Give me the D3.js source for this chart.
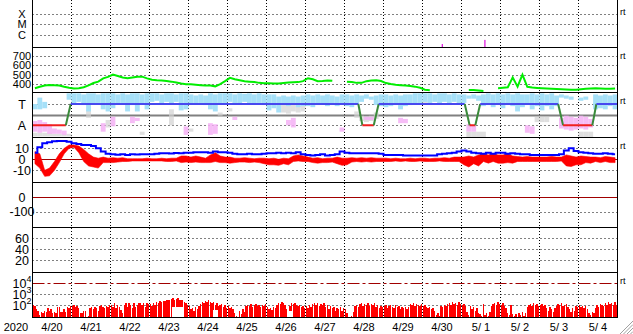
<!DOCTYPE html>
<html>
<head>
<meta charset="utf-8">
<script src="https://cdn.jsdelivr.net/npm/d3@7"></script>
<style>
  body { margin: 0; background: #fff; }
  text { font-family: "Liberation Sans", Arial, sans-serif; }
</style>
</head>
<body>
<div id="chart"></div>
<script>
// multi panel solar wind summary, 2020 4/20 - 5/4
// time is in hours from 4/20 00:00, most series are 3 hour bins

var dayLabels = ["4/20","4/21","4/22","4/23","4/24","4/25","4/26","4/27","4/28",
                 "4/29","4/30","5/ 1","5/ 2","5/ 3","5/ 4"];

// panel 1: x-ray events
var xrayLabels = ["X","M","C"], xrayLevels = [1e-4, 1e-5, 1e-6];
var flareHours = [251.8, 278], flareFlux = [1.3e-7, 3.2e-7];

// panel 2: speed
var speedTicks = [400, 500, 600, 700];
var speed = [
  355,370,385,390,388,385,370,360,
  352,355,365,385,410,425,460,475,
  500,485,470,462,470,478,478,460,
  445,440,438,432,425,415,405,398,
  397,392,388,385,383,375,398,430,
  465,450,440,430,425,420,412,408,
  408,405,405,410,415,418,420,430,
  461,450,430,432,438,435,null,null,
  425,420,412,412,430,438,440,432,
  410,400,392,388,385,380,372,360,
  340,335,null,null,null,null,null,null,
  null,336,336,330,325,null,null,355,
  360,365,470,372,500,370,362,358,
  355,352,350,348,345,342,340,340,
  345,350,352,355,352,350,350,352];

// panel 3: sector (T = 1, A = -1) and angle scatter ranges
var sectorLabels = ["T","A"], sectorTicks = [1, -1];
var sectorHours = [0,20.5,23.5,200.5,203,210,213,266,269,272.5,275.5,323.5,326.5,344.5,347,360];
var sectorState = [-1,-1,1,1,-1,-1,1,1,-1,-1,1,1,-1,-1,1,1];
var cyanSpan = [
  [1.0,0.5],[1.6,0.5],[1.2,0.6],null,null,null,null,[2.0,1.4],
  [2.0,1.0],[2.0,1.2],[1.9,0.9],[2.0,0.3],[2.0,1.0],[1.9,1.1],[2.0,0.5],[2.0,0.3],
  [2.0,0.6],[1.9,1.0],[2.0,1.1],[1.9,0.3],[2.0,0.9],[2.0,0.3],[1.9,1.0],[2.0,0.5],
  [2.0,1.2],[2.0,1.3],[1.9,1.1],[2.0,1.2],[2.0,1.0],[1.9,1.2],[2.0,0.4],[2.0,0.5],
  [1.9,1.0],[1.8,1.0],[1.9,1.1],[1.8,0.9],[2.0,0.5],[1.9,0.3],[2.0,1.0],[2.0,1.1],
  [2.0,1.2],[1.9,1.1],[2.0,1.0],[1.95,1.2],[2.0,1.1],[1.9,1.0],[2.0,1.1],[1.9,0.9],
  [1.9,0.4],[1.9,0.6],[1.7,0.2],[1.8,0.9],[1.7,0.8],[1.8,1.0],[1.7,0.7],[1.8,0.8],
  [1.9,0.8],[1.8,0.7],[1.9,0.9],[1.8,1.0],[1.9,0.8],[1.8,0.9],[1.7,0.8],[1.9,0.9],
  [1.9,0.8],[1.8,0.7],[1.9,0.9],[1.8,1.2],[1.9,1.5],[1.7,1.4],[1.8,0.9],[1.9,0.8],
  [1.9,0.7],[1.8,0.8],[1.9,0.9],[1.8,0.5],[1.9,0.8],[1.9,0.9],[2.0,1.0],[2.0,1.1],
  [2.0,1.2],[2.0,1.1],[1.9,1.2],[2.0,1.0],[2.0,1.2],[1.9,1.1],[2.0,1.2],[1.9,1.0],
  [1.9,1.1],[1.8,1.5],[1.9,1.5],[1.8,1.3],[1.9,0.8],[2.0,0.9],[1.9,0.7],[2.0,0.9],
  [1.9,0.6],[2.0,0.9],[1.9,0.8],[2.0,0.3],[1.9,0.7],[1.9,0.9],[2.0,0.5],[1.9,0.8],
  [2.0,0.4],[1.9,0.8],[2.0,0.5],[1.8,0.8],[1.9,1.6],[1.8,1.5],[1.7,1.4],null,
  [1.6,1.3],[1.7,1.4],null,[1.9,0.5],[1.8,0.6],[1.9,0.5],[1.8,0.8],[1.9,0.5]];
var pinkSpan = [
  [-0.6,-1.6],[-0.5,-1.7],[-0.7,-1.6],[-0.9,-1.8],[-1.3,-1.8],[-1.4,-1.8],[-1.5,-1.9],null,
  null,null,null,null,null,null,[-0.8,-1.6],null,
  [-0.2,-1.1],null,null,null,[-0.2,-0.8],[-0.3,-0.6],null,null,
  null,null,null,null,null,null,null,[-1.1,-1.9],
  null,null,null,null,[-0.8,-1.9],[-0.9,-1.8],null,null,
  null,[-0.2,-0.5],null,null,null,null,null,null,
  null,null,null,null,[-0.5,-1.0],[-0.3,-1.2],null,null,
  null,null,null,null,null,null,null,[-1.2,-1.6],
  null,null,null,null,[-0.2,-0.5],[-0.2,-0.5],null,null,
  null,null,null,[-0.3,-0.8],[-0.4,-0.8],null,null,null,
  null,null,null,null,null,null,null,null,
  null,[-0.9,-1.6],[-1.0,-1.6],null,null,null,null,null,
  null,null,null,null,null,[-1.0,-1.7],[-1.1,-1.8],null,
  null,null,null,null,[-0.3,-1.3],[-0.1,-1.4],[-0.2,-1.5],[-0.3,-1.4],
  [-0.1,-1.3],[-0.2,-1.4],[-0.4,-1.2],null,null,null,null,null];
var graySpan = [
  [-1.7,-2.05],[-1.7,-2.05],[-1.7,-2.05],[-1.7,-2.05],[-1.8,-2.05],[-1.8,-2.05],[-1.8,-2.05],[-1.8,-2.05],
  null,null,null,[0.4,-0.3],null,null,null,[-0.5,-1.2],
  null,null,null,null,null,null,[-1.6,-1.9],null,
  null,null,null,null,[0.5,-1.0],null,null,null,
  [-1.3,-1.6],null,null,null,null,null,[0.2,-0.1],null,
  [0.6,0.3],null,null,null,null,null,null,null,
  null,null,null,[1.0,0.2],[0.9,0.1],[1.0,0.3],[0.8,0.2],[0.9,0.3],
  null,null,null,null,null,null,null,null,
  null,null,[0.3,-0.3],[-0.1,-0.6],[-0.2,-0.7],[-0.1,-0.6],[0.2,-0.4],null,
  null,null,null,null,null,null,null,null,
  [1.4,1.1],null,null,null,null,null,null,null,
  null,[-1.6,-2.1],[-1.6,-2.1],[-1.6,-2.1],[-1.6,-2.1],null,null,null,
  null,null,null,null,null,null,null,[-0.2,-0.7],
  [-0.2,-0.7],[-0.2,-0.7],null,null,null,null,null,null,
  [-1.6,-2.1],[-1.6,-2.1],[-1.6,-2.1],null,null,null,null,null];

// panel 4: field magnitude (blue) and north-south component range (red)
var bTicks = [10, 0, -10];
var bt = [
  6,11,14.5,15.5,16.5,16.7,16.7,16,
  14.5,14,13,13,12,10,7,5,
  4.5,4.2,4.5,4,4.5,4.3,4.5,4.5,
  4.5,5,5.5,5.5,5.3,5.8,5.5,6,
  6,6.5,6.3,6.5,6,7,6.5,6.5,
  6,5,4.5,4.5,5,4.5,4.5,5,
  5.5,5.5,6,5.5,6,5.5,6.5,4.5,
  4,3.5,4,4.5,3.5,4,4.5,7,
  6,5.5,5.5,5.5,5.5,5.5,5.5,5,
  4,4,4,4,3.5,3.5,3.5,3.5,
  3.5,3.5,3.5,4.5,5,5.5,6,7,
  8,7,6,5.5,5,6,5,6,
  6,5,5.5,5,4.5,4.5,4,4,
  4,4,4,4,4.5,8,10,7.5,
  6.5,6,5.5,5,5,5.5,5,4.5];
var bzHi = [
  7,5,-10,-8,-2,5,10,13,
  13,12,9,5,2,1,2,1,
  1.5,1,1.5,0.5,0.5,0.5,0.5,1,
  0.5,0.5,1,0.5,1,1,3,3,
  2,3,2,1,4,6,3,2,
  2,1,1,1.5,1,0.5,1,1,
  0.5,1,0,1,0.5,3,4,3,
  2,1,1.5,0.5,1,1,2,1,
  1,1.5,1,1.5,1,1.5,1,1,
  1,0.5,1,0.5,0.5,1,0.5,1,
  1,0.5,1,1,1.5,1,2,2,
  2,3,2,4,5,4,5,4,
  4,5,3,2.5,2,2.5,2,2,
  2,2,2.5,2,2,4,3,2,
  3,2.5,2,2,1.5,2.5,2,1.5];
var bzLo = [
  -4,-8,-15.5,-15,-10,-3,5,10,
  11,6,-2,-6,-7,-8,-3,-3,
  -3,-2.5,-2,-2,-1.5,-1.5,-1.5,-1.5,
  -1.5,-1.5,-1.5,-2,-2,-1.5,-3,-2.5,
  -3,-2.5,-3,-3,-3,-2,-3,-3,
  -3.5,-3,-2.5,-2.5,-3,-2.5,-3,-4,
  -5,-5,-5.5,-4,-5,-2,-1.5,-2,
  -2,-3,-3.5,-3,-3,-2.5,-4,-5.5,
  -5,-2.5,-2,-2.5,-2,-2.5,-2,-2,
  -2,-2,-1.5,-2,-1.5,-2,-2,-1.5,
  -2,-2,-2,-1.5,-2,-2,-2,-2,
  -5,-7,-4,-6,-2,-3.5,-2,-3.5,
  -3.5,-3,-3.5,-2,-2,-2,-2,-2,
  -2,-2,-2,-2,-1.5,-6,-6.5,-5,
  -5,-3,-3.5,-2,-3,-2,-3,-3];

// panels 5 and 6: empty
var dstTicks = [0, -100];
var kpTicks = [60, 40, 20];

// panel 7: hourly flux, log10 values
var fluxTicks = [4, 3, 2];
var fluxLog = [
  2.0,1.9,1.6,1.5,1.1,1.4,1.3,1.5,1.4,1.7,1.5,1.6,1.3,1.4,1.3,1.8,1.8,1.4,1.4,1.6,1.4,1.8,1.7,1.9,
  1.9,2.0,1.8,1.9,1.7,1.3,1.25,1.5,1.5,0.95,1.0,1.7,1.8,1.6,1.8,1.7,1.5,1.9,2.0,1.8,1.7,1.9,1.8,2.0,
  2.0,1.85,2.15,1.7,2.0,1.85,1.55,1.25,2.0,2.15,1.85,2.15,2.0,1.7,2.15,1.85,2.0,2.15,2.2,2.0,2.15,1.85,2.2,2.1,
  2.1,1.9,2.2,2.0,2.3,2.2,2.4,2.3,2.4,2.35,2.5,2.45,2.5,2.55,2.6,2.5,2.55,2.6,2.5,2.45,2.5,2.3,2.2,2.0,
  1.9,1.6,1.7,1.5,1.8,1.6,1.9,2.1,2.3,2.2,2.4,2.3,2.45,2.3,2.2,2.3,2.0,2.2,1.9,2.0,2.1,1.8,2.0,1.7,
  1.9,1.7,1.8,1.6,1.3,1.0,0.95,1.5,1.2,1.6,1.4,1.9,2.0,1.9,2.1,1.8,2.0,2.1,1.9,2.0,1.85,2.0,1.9,2.1,
  1.8,1.6,1.7,1.55,1.8,1.7,2.0,2.2,2.1,2.3,2.2,2.0,1.6,1.4,1.9,2.2,2.1,2.2,2.0,1.9,2.0,1.8,1.9,1.7,
  1.9,1.7,2.0,1.8,2.1,2.2,2.0,2.2,1.9,2.1,2.0,2.15,1.8,2.0,1.6,1.9,1.7,1.8,1.5,1.7,1.6,1.8,1.5,1.7,
  1.6,1.3,0.95,0.9,1.0,1.4,1.9,2.0,1.8,2.1,2.2,1.9,2.1,2.0,2.2,1.9,2.1,2.0,2.2,1.8,2.0,1.7,1.9,1.8,
  1.9,2.0,1.7,1.9,2.0,1.8,1.7,2.0,1.8,1.9,1.6,1.8,1.7,1.85,1.6,1.8,2.1,2.0,2.15,1.9,2.1,2.0,1.9,2.05,
  1.9,2.0,1.8,1.7,1.85,1.6,1.7,1.5,1.1,1.3,1.0,1.9,1.8,2.0,1.9,2.1,2.2,2.0,2.3,2.1,2.2,2.0,2.3,2.1,
  2.0,2.1,1.9,1.4,1.1,1.9,1.6,1.8,1.5,1.7,1.3,1.2,1.0,2.1,1.1,1.3,1.0,1.4,1.9,2.1,2.2,2.0,2.3,2.1,
  2.0,2.2,1.9,1.7,1.3,1.1,2.0,1.2,1.0,1.2,0.95,1.3,1.1,1.4,1.0,1.3,1.8,2.0,2.1,1.9,2.2,2.0,2.1,1.9,
  2.0,2.1,1.9,2.0,1.7,1.5,1.8,1.6,1.4,1.7,1.9,2.1,2.0,2.15,1.9,2.0,2.1,1.8,1.6,1.4,1.7,1.5,1.9,1.8,
  2.0,1.8,1.9,1.7,1.9,1.6,1.3,1.1,1.4,1.3,1.7,2.0,1.8,2.1,2.0,1.9,2.2,2.0,2.3,2.1,2.2,2.0,2.25,2.0];
// stretches where the trace never dropped to the floor: [from hour, to hour, lowest log10]
var fluxHoles = [[86, 93, 1.85], [111, 114, 1.55], [157, 160, 1.5]];

var W = 633, H = 334;
var plotLeft = 32.5, plotRight = 617.5;
var panelTop = [0, 47.5, 92.5, 137.5, 182.5, 227.5, 272.5], plotBottom = 317.5;

var svg = d3.select("#chart").append("svg")
  .attr("width", W).attr("height", H)
  .style("display", "block");

var x = d3.scaleLinear().domain([0, 360]).range([plotLeft, plotRight]);

var yXray = d3.scaleLog().domain([1e-6, 1e-4]).range([34.7, 13.7]);
var ySpeed = d3.scaleLinear().domain([400, 700]).range([84, 55.7]);
var ySec = d3.scaleLinear().domain([-1, 1]).range([125.3, 104]);
var yB = d3.scaleLinear().domain([-10, 10]).range([170.3, 148.3]);
var yDst = d3.scaleLinear().domain([-100, 0]).range([211.7, 197.3]);
var yKp = d3.scaleLinear().domain([20, 60]).range([260.3, 238]);
var yFlux = d3.scaleLinear().domain([2, 4]).range([305, 283]);

// clip for each panel
var defs = svg.append("defs");
panelTop.forEach(function(t, i){
  var b = i < panelTop.length - 1 ? panelTop[i+1] : plotBottom;
  defs.append("clipPath").attr("id", "clip" + i)
    .append("rect").attr("x", plotLeft).attr("y", t)
    .attr("width", plotRight - plotLeft).attr("height", b - t);
});
function panel(i){ return svg.append("g").attr("clip-path", "url(#clip" + i + ")"); }

// ---- grid
var grid = svg.append("g");
function hDots(y){
  grid.append("line").attr("x1", plotLeft).attr("x2", plotRight)
    .attr("y1", Math.round(y) + 0.5).attr("y2", Math.round(y) + 0.5)
    .attr("stroke", "#000").attr("stroke-dasharray", "1,3");
}
xrayLevels.forEach(function(v){ hDots(yXray(v)); });
speedTicks.forEach(function(v){ hDots(ySpeed(v)); });
sectorTicks.forEach(function(v){ hDots(ySec(v)); });
hDots(yB(10)); hDots(yB(-10));
hDots(yDst(-100));
kpTicks.forEach(function(v){ hDots(yKp(v)); });
hDots(yFlux(3)); hDots(yFlux(2));

d3.range(1, 15).forEach(function(d){
  var xx = Math.round(x(d * 24) - 0.5) + 0.5;
  grid.append("line").attr("x1", xx).attr("x2", xx)
    .attr("y1", 0).attr("y2", plotBottom)
    .attr("stroke", "#000").attr("stroke-dasharray", "1,2");
});

// ---- reference lines
svg.append("line").attr("x1", plotLeft).attr("x2", plotRight)
  .attr("y1", Math.round(ySec(0)) + 0.5).attr("y2", Math.round(ySec(0)) + 0.5)
  .attr("stroke", "#808080").attr("stroke-width", 2);
[yB(0), yDst(0)].forEach(function(y){
  svg.append("line").attr("x1", plotLeft).attr("x2", plotRight)
    .attr("y1", Math.round(y) + 0.5).attr("y2", Math.round(y) + 0.5)
    .attr("stroke", "#a00000");
});
svg.append("line").attr("x1", plotLeft).attr("x2", plotRight)
  .attr("y1", Math.round(yFlux(4)) + 0.5).attr("y2", Math.round(yFlux(4)) + 0.5)
  .attr("stroke", "#a00000").attr("stroke-dasharray", "12,3,3,3");

// ---- panel 1: x-ray events
var p1 = panel(0);
flareHours.forEach(function(h, i){
  p1.append("rect").attr("x", x(h)).attr("width", 1.3)
    .attr("y", yXray(flareFlux[i])).attr("height", panelTop[1] - yXray(flareFlux[i]))
    .attr("fill", "#e020e0");
});

// ---- panel 2: speed
var p2 = panel(1);
p2.append("path").datum(speed)
  .attr("fill", "none").attr("stroke", "#00ee00").attr("stroke-width", 2)
  .attr("d", d3.line().defined(function(d){ return d !== null; })
    .x(function(d, i){ return x(i * 3 + 1.5); })
    .y(function(d){ return ySpeed(d); }));

// ---- panel 3: sector
var p3 = panel(2);
function spans(g, data, color, op){
  g.selectAll(null).data(data.map(function(d, i){ return d ? {i: i, d: d} : null; })
      .filter(function(d){ return d; }))
    .join("rect")
    .attr("x", function(d){ return x(d.i * 3); })
    .attr("width", x(3) - x(0))
    .attr("y", function(d){ return ySec(d.d[0]); })
    .attr("height", function(d){ return ySec(d.d[1]) - ySec(d.d[0]); })
    .attr("fill", color).attr("opacity", op);
}
spans(p3, graySpan, "#d2d2d2", 0.7);
spans(p3, cyanSpan, "#a6e0f8", 1);
spans(p3, pinkSpan, "#f4b0f4", 0.85);
d3.range(sectorHours.length - 1).forEach(function(i){
  var s0 = sectorState[i], s1 = sectorState[i+1];
  var col = s0 !== s1 ? "#3a8a3a" : (s0 > 0 ? "#4848f0" : "#f02020");
  p3.append("line")
    .attr("x1", x(sectorHours[i])).attr("x2", x(sectorHours[i+1]))
    .attr("y1", ySec(s0)).attr("y2", ySec(s1))
    .attr("stroke", col).attr("stroke-width", 2);
});

// ---- panel 4: field
var p4 = panel(3);
p4.append("path").datum(bzHi)
  .attr("fill", "#ff0000").attr("stroke", "#ff0000").attr("stroke-width", 0.6)
  .attr("d", d3.area()
    .x(function(d, i){ return x(i * 3 + 1.5); })
    .y0(function(d, i){ return yB(bzLo[i]); })
    .y1(function(d){ return yB(d); }));
p4.append("path").datum(bt)
  .attr("fill", "none").attr("stroke", "#0000ff").attr("stroke-width", 2)
  .attr("d", d3.line()
    .x(function(d, i){ return x(i * 3 + 1.5); })
    .y(function(d){ return yB(d); }).curve(d3.curveStep));

// ---- panel 7: flux bars
var p7 = panel(6);
p7.selectAll(null).data(fluxLog).join("rect")
  .attr("x", function(d, i){ return x(i); })
  .attr("width", (x(1) - x(0)) * 0.9)
  .attr("y", function(d){ return yFlux(d); })
  .attr("height", function(d, i){
    var lo = plotBottom;
    fluxHoles.forEach(function(h){ if (i >= h[0] && i < h[1]) lo = yFlux(h[2]); });
    return Math.max(0, lo - yFlux(d));
  })
  .attr("fill", "#ff0000")
  .attr("shape-rendering", "crispEdges");

// ---- frame
var frame = svg.append("g").attr("stroke", "#000").attr("shape-rendering", "crispEdges");
panelTop.slice(1).concat([plotBottom]).forEach(function(y){
  frame.append("line").attr("x1", plotLeft).attr("x2", plotRight).attr("y1", y).attr("y2", y);
});
frame.append("line").attr("x1", plotLeft).attr("x2", plotLeft).attr("y1", 0).attr("y2", plotBottom);
frame.append("line").attr("x1", plotRight).attr("x2", plotRight).attr("y1", 0).attr("y2", plotBottom);

// ---- labels
var lab = svg.append("g").attr("font-size", 12.5).attr("fill", "#000").attr("text-anchor", "middle");
function leftLabel(txt, y, size){
  lab.append("text").attr("x", 22).attr("y", y).attr("dy", "0.36em")
    .attr("font-size", size || null).text(txt);
}
xrayLevels.forEach(function(v, i){ leftLabel(xrayLabels[i], yXray(v), 11); });
speedTicks.forEach(function(v){ leftLabel(v, ySpeed(v), 11); });
sectorTicks.forEach(function(v, i){ leftLabel(sectorLabels[i], ySec(v)); });
bTicks.forEach(function(v){ leftLabel(v, yB(v)); });
dstTicks.forEach(function(v){ leftLabel(v, yDst(v)); });
kpTicks.forEach(function(v){ leftLabel(v, yKp(v)); });
fluxTicks.forEach(function(v){
  var t = lab.append("text").attr("x", 22).attr("y", yFlux(v)).attr("dy", "0.36em");
  t.append("tspan").text("10");
  t.append("tspan").attr("font-size", 9).attr("dy", "-0.6em").text(v);
});

var xl = svg.append("g").attr("font-size", 11).attr("text-anchor", "middle");
xl.append("text").attr("x", 16).attr("y", 331).text("2020");
dayLabels.forEach(function(d, i){
  xl.append("text").attr("x", x(i * 24 + 12)).attr("y", 331).text(d);
});

// small tags at the right edge
var tags = [panelTop[0] + 12, panelTop[1] + 8, panelTop[2] + 8, panelTop[3] + 8, panelTop[6] + 8];
tags.forEach(function(y){
  svg.append("text").attr("x", 620).attr("y", y + 3).attr("font-size", 9).text("rt");
});

// resize grip
var grip = svg.append("g").attr("stroke", "#a0a0a0");
[0, 1, 2, 3].forEach(function(k){
  grip.append("line").attr("x1", 620 + 3.5 * k).attr("y1", 334)
    .attr("x2", 633).attr("y2", 321 + 3.5 * k);
});
</script>
</body>
</html>
